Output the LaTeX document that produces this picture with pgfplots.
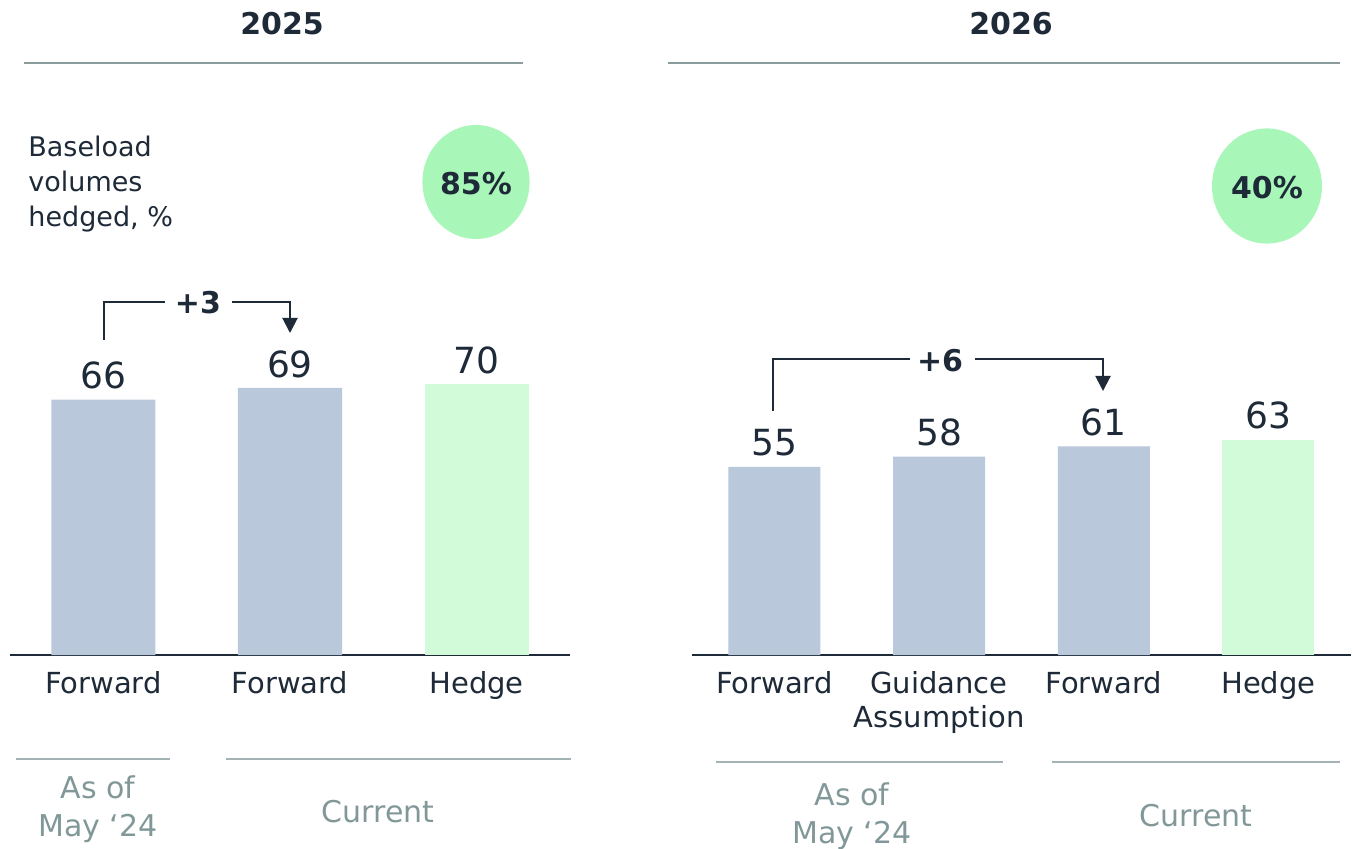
\documentclass[border=0pt]{standalone}
\usepackage{pgfplots}
\pgfplotsset{compat=1.18}
\usepackage{fontspec}
\setmainfont{DejaVu Sans}
\usetikzlibrary{arrows.meta}
\definecolor{ink}{HTML}{1E2A38}
\definecolor{barblue}{HTML}{B9C8DA}
\definecolor{bargreen}{HTML}{D2FCD9}
\definecolor{circ}{HTML}{A9F6B9}
\definecolor{rulec}{HTML}{8A9C9C}
\definecolor{grule}{HTML}{A3B2B2}
\definecolor{gtext}{HTML}{829898}
\pgfplotsset{
  common/.style={
    scale only axis, ymin=0, ymax=100,
    axis x line=bottom, axis y line=none,
    axis line style={ink, line width=1pt, -},
    x axis line style={-},
    major tick length=0pt, ytick=\empty,
    xticklabel style={font=\fontsize{14.5}{17}\selectfont, text=ink, align=center, anchor=north, inner sep=0pt, yshift=-8pt},
    ybar, bar shift=0pt,
    nodes near coords, /pgf/number format/assume math mode=true,
    nodes near coords style={font=\fontsize{18}{20}\selectfont, text=ink, inner sep=0pt, anchor=south, yshift=5pt},
    clip=false,
  }
}
\begin{document}
\begin{tikzpicture}
\begin{axis}[common,
  at={(5pt,-327.5pt)}, anchor=south west,
  width=280pt, height=193.5pt,
  xmin=-0.5, xmax=2.5,
  xtick={0,1,2}, xticklabels={Forward,Forward,Hedge},
  bar width=52pt,
]
\addplot[fill=barblue, draw=none] coordinates {(0,66) (1,69)};
\addplot[fill=bargreen, draw=none] coordinates {(2,70)};
\end{axis}
\begin{axis}[common,
  at={(346pt,-327.5pt)}, anchor=south west,
  width=329.4pt, height=171pt,
  xmin=-0.5, xmax=3.5,
  xtick={0,1,2,3}, xticklabels={Forward,{Guidance\\Assumption},Forward,Hedge},
  bar width=46pt,
]
\addplot[fill=barblue, draw=none] coordinates {(0,55) (1,58) (2,61)};
\addplot[fill=bargreen, draw=none] coordinates {(3,63)};
\end{axis}
\begin{scope}[x=0.5pt, y=-0.5pt]
  % titles
  \node[font=\bfseries\fontsize{15}{18}\selectfont, text=ink] at (282,24) {2025};
  \node[font=\bfseries\fontsize{15}{18}\selectfont, text=ink] at (1011,24) {2026};
  \draw[rulec, line width=0.8pt] (24,63) -- (523,63);
  \draw[rulec, line width=0.8pt] (668,63) -- (1340,63);
  % subtitle
  \node[anchor=north west, inner sep=0pt, align=left, font=\fontsize{13.5}{17.5}\selectfont, text=ink] at (28,136) {Baseload\\volumes\\hedged, \%};
  % circles
  \fill[circ] (476,182) ellipse [x radius=26.8pt, y radius=28.5pt];
  \node[font=\bfseries\fontsize{15}{18}\selectfont, text=ink] at (476,184) {85\%};
  \fill[circ] (1267,186) ellipse [x radius=27.5pt, y radius=28.8pt];
  \node[font=\bfseries\fontsize{15}{18}\selectfont, text=ink] at (1267,188) {40\%};
  % change arrows
  \draw[ink, line width=1pt] (104,340) -- (104,302) -- (165,302);
  \draw[ink, line width=1pt, -{Triangle[length=7.5pt, width=7.5pt]}] (232,302) -- (290,302) -- (290,333);
  \node[font=\bfseries\fontsize{15}{18}\selectfont, text=ink] at (198,303) {+3};
  \draw[ink, line width=1pt] (773,411) -- (773,359) -- (910,359);
  \draw[ink, line width=1pt, -{Triangle[length=7.5pt, width=7.5pt]}] (975,359) -- (1103,359) -- (1103,391);
  \node[font=\bfseries\fontsize{15}{18}\selectfont, text=ink] at (940,361) {+6};
  % group lines
  \draw[grule, line width=1pt] (16,759) -- (170,759);
  \draw[grule, line width=1pt] (226,759) -- (571,759);
  \draw[grule, line width=1pt] (716,762) -- (1003,762);
  \draw[grule, line width=1pt] (1052,762) -- (1340,762);
  \node[align=center, font=\fontsize{15}{19}\selectfont, text=gtext] at (98,809) {As of\\May ‘24};
  \node[font=\fontsize{15}{19}\selectfont, text=gtext] at (378,812) {Current};
  \node[align=center, font=\fontsize{15}{19}\selectfont, text=gtext] at (852,816) {As of\\May ‘24};
  \node[font=\fontsize{15}{19}\selectfont, text=gtext] at (1196,816) {Current};
  \pgfresetboundingbox
  \useasboundingbox (0,0) rectangle (1353,849);
\end{scope}
\end{tikzpicture}
\end{document}
